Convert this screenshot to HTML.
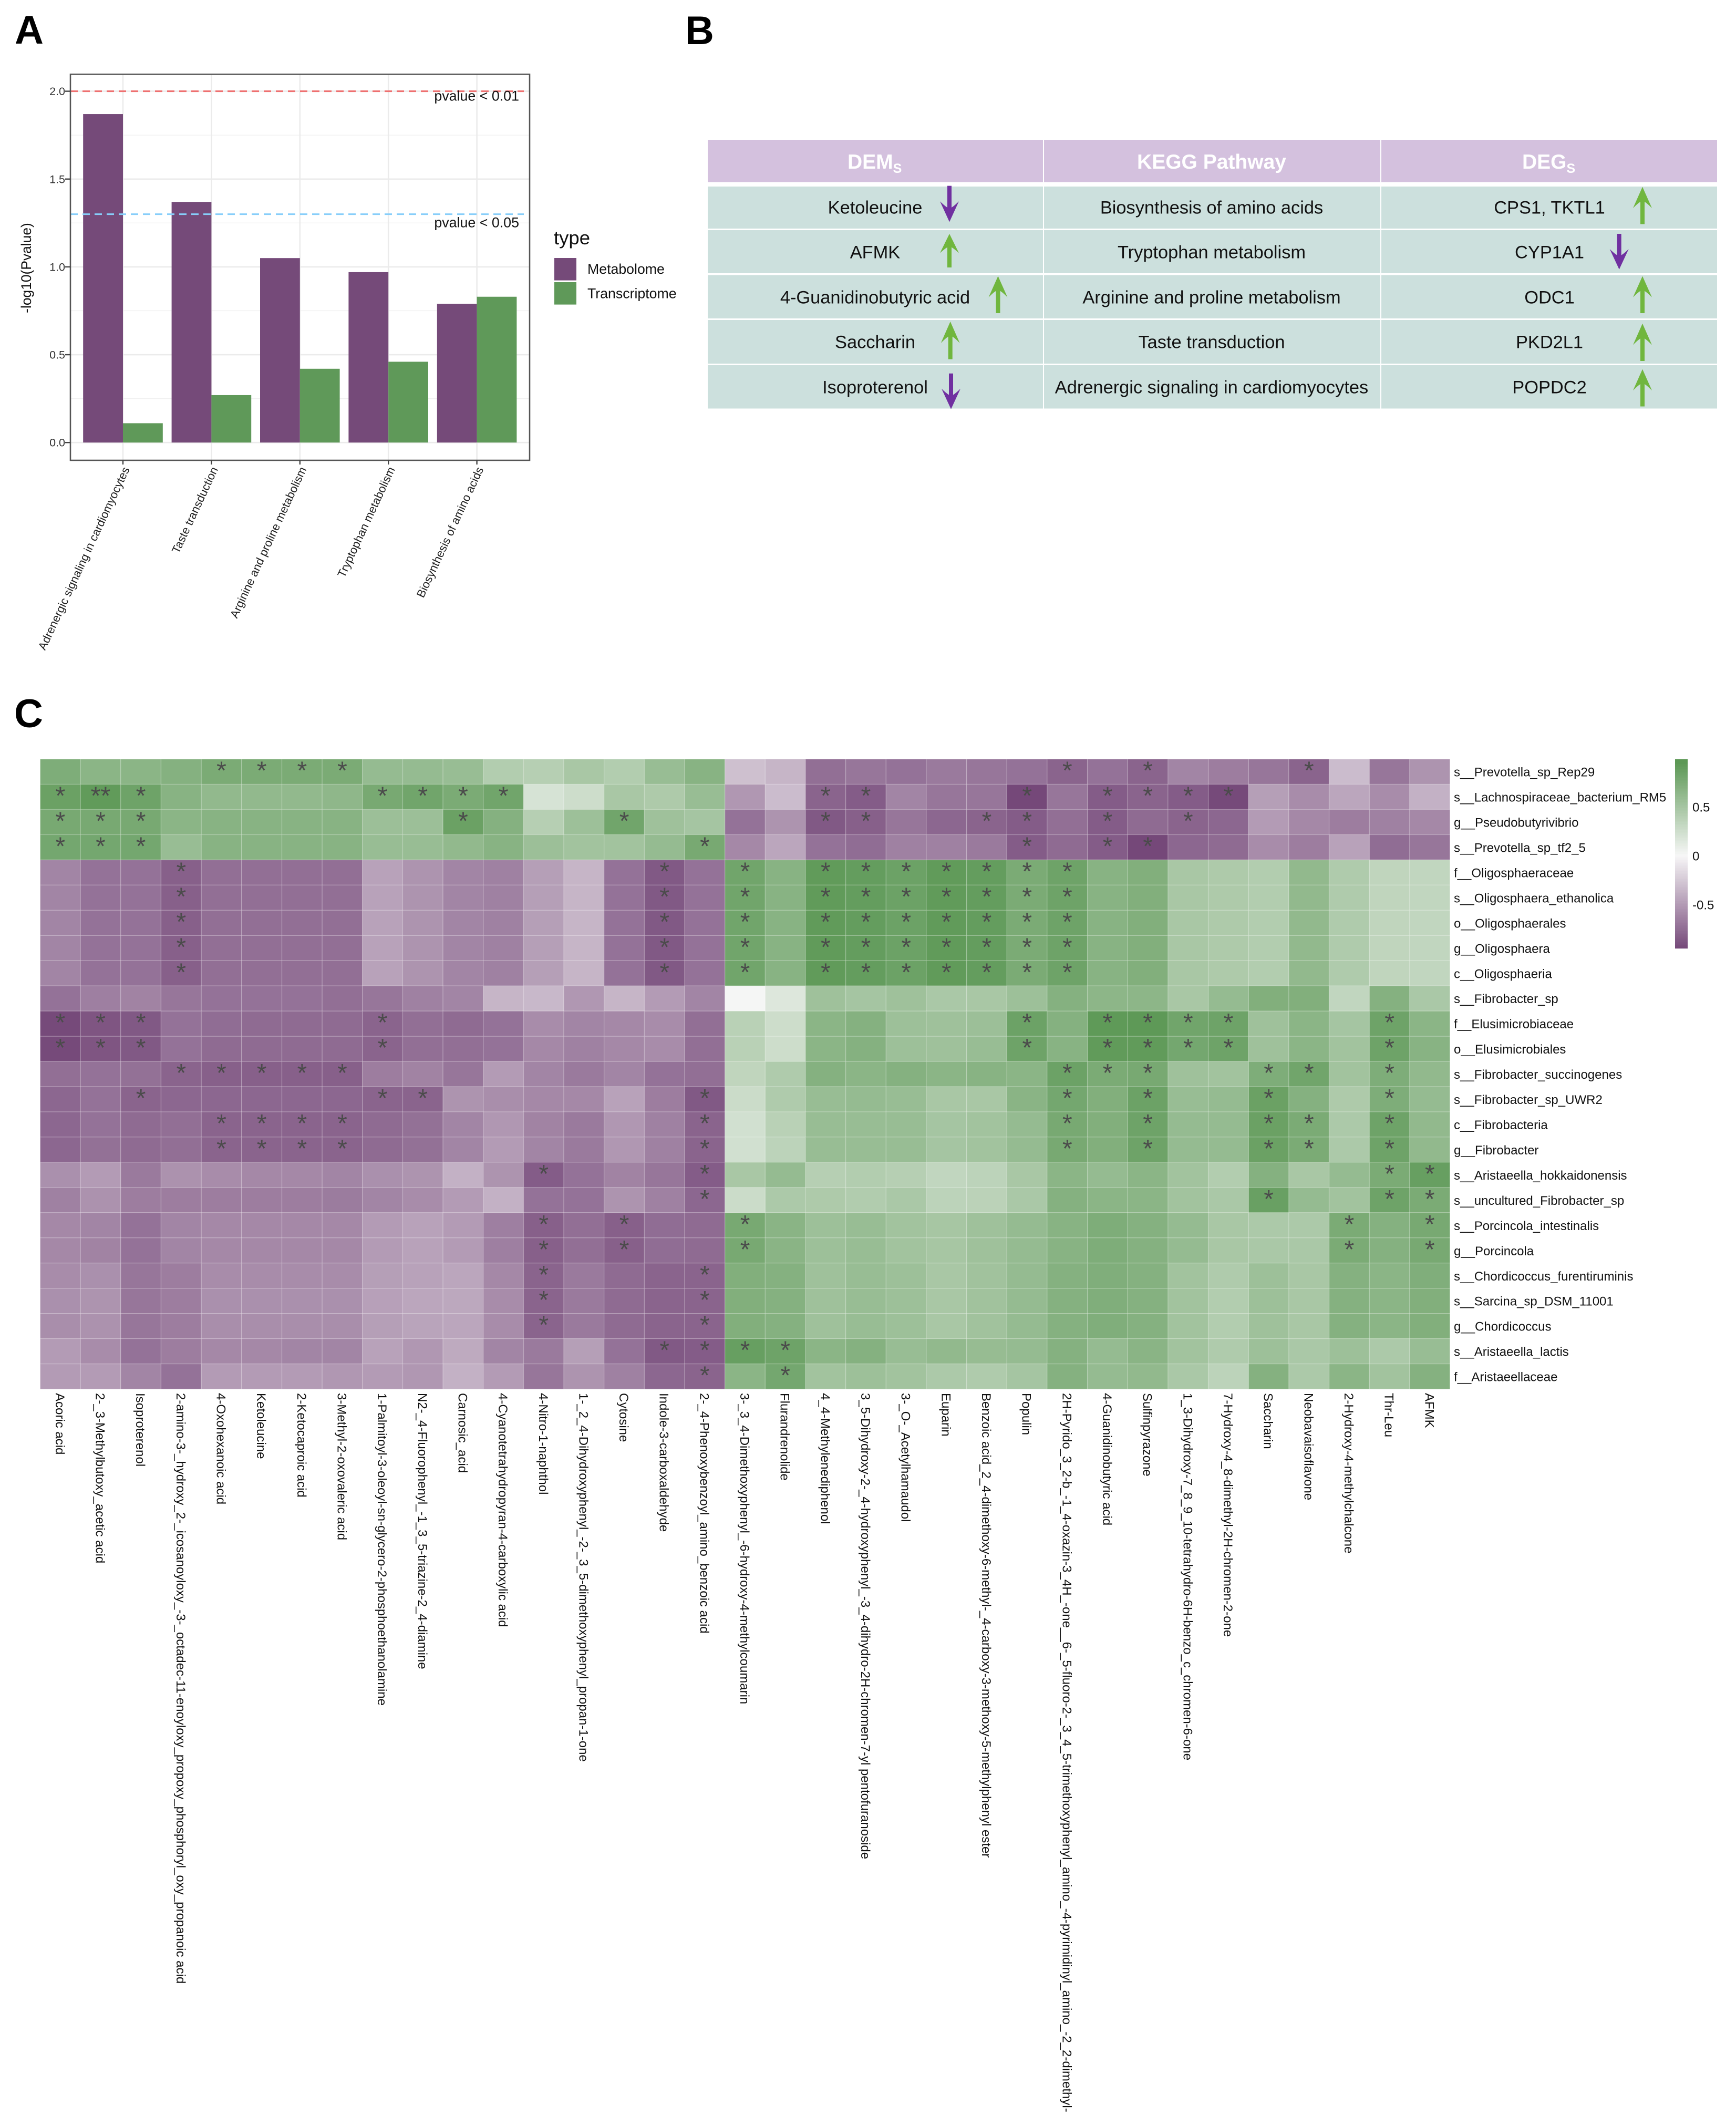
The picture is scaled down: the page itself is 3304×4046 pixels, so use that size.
<!DOCTYPE html>
<html lang="en">
<head>
<meta charset="utf-8">
<title>Multi-omics figure</title>
<style>
html,body{margin:0;padding:0;background:#fff}
svg{display:block}
text{font-family:"Liberation Sans",sans-serif}
</style>
</head>
<body>
<svg id="fig" xmlns="http://www.w3.org/2000/svg" width="3304" height="4046" viewBox="0 0 3304 4046">
<rect x="0" y="0" width="3304" height="4046" fill="#fff"/>

<text x="28" y="83" font-size="76" font-weight="700">A</text>
<text x="1304" y="84" font-size="76" font-weight="700">B</text>
<text x="27" y="1384" font-size="76" font-weight="700">C</text>

<g id="panelA"></g>

<g id="panelB">
  <rect x="1347" y="266" width="638" height="80.5" fill="#d4c1de"/>
  <rect x="1987" y="266" width="640" height="80.5" fill="#d4c1de"/>
  <rect x="2629" y="266" width="639" height="80.5" fill="#d4c1de"/>
  <text x="1613" y="321" font-size="39" font-weight="700" fill="#fff">DEM<tspan font-size="25" dy="8">S</tspan></text>
  <text x="2306" y="321" font-size="39" font-weight="700" fill="#fff" text-anchor="middle">KEGG Pathway</text>
  <text x="2897" y="321" font-size="39" font-weight="700" fill="#fff">DEG<tspan font-size="25" dy="8">S</tspan></text>

  <g fill="#cce0dd">
    <rect x="1347" y="355" width="638" height="80"/>
    <rect x="1987" y="355" width="640" height="80"/>
    <rect x="2629" y="355" width="639" height="80"/>
  </g>
  <g fill="#cce0dd">
    <rect x="1347" y="438" width="638" height="82"/>
    <rect x="1987" y="438" width="640" height="82"/>
    <rect x="2629" y="438" width="639" height="82"/>
  </g>
  <g fill="#cce0dd">
    <rect x="1347" y="523.5" width="638" height="82.5"/>
    <rect x="1987" y="523.5" width="640" height="82.5"/>
    <rect x="2629" y="523.5" width="639" height="82.5"/>
  </g>
  <g fill="#cce0dd">
    <rect x="1347" y="609" width="638" height="83"/>
    <rect x="1987" y="609" width="640" height="83"/>
    <rect x="2629" y="609" width="639" height="83"/>
  </g>
  <g fill="#cce0dd">
    <rect x="1347" y="695" width="638" height="82.5"/>
    <rect x="1987" y="695" width="640" height="82.5"/>
    <rect x="2629" y="695" width="639" height="82.5"/>
  </g>

  <g font-size="34.4" fill="#111" text-anchor="middle">
    <text x="1665.5" y="406.5">Ketoleucine</text>
    <text x="2306" y="406.5">Biosynthesis of amino acids</text>
    <text x="2949" y="406.5">CPS1, TKTL1</text>
    <text x="1665.5" y="491.5">AFMK</text>
    <text x="2306" y="491.5">Tryptophan metabolism</text>
    <text x="2949" y="491.5">CYP1A1</text>
    <text x="1665.5" y="577.5">4-Guanidinobutyric acid</text>
    <text x="2306" y="577.5">Arginine and proline metabolism</text>
    <text x="2949" y="577.5">ODC1</text>
    <text x="1665.5" y="662.5">Saccharin</text>
    <text x="2306" y="662.5">Taste transduction</text>
    <text x="2949" y="662.5">PKD2L1</text>
    <text x="1665.5" y="748.5">Isoproterenol</text>
    <text x="2306" y="748.5">Adrenergic signaling in cardiomyocytes</text>
    <text x="2949" y="748.5">POPDC2</text>
  </g>

  <path transform="translate(1807,422.4) scale(1,-0.983)" fill="#7030a0" d="M0 0L18 40Q9 31 4 28L4 70L-4 70L-4 28Q-9 31-18 40Z"/>
  <path transform="translate(1807,445) scale(1,0.914)" fill="#70b63e" d="M0 0L18 40Q9 31 4 28L4 70L-4 70L-4 28Q-9 31-18 40Z"/>
  <path transform="translate(1899.5,525.5) scale(1,1.007)" fill="#70b63e" d="M0 0L18 40Q9 31 4 28L4 70L-4 70L-4 28Q-9 31-18 40Z"/>
  <path transform="translate(1808.7,612) scale(1,1.024)" fill="#70b63e" d="M0 0L18 40Q9 31 4 28L4 70L-4 70L-4 28Q-9 31-18 40Z"/>
  <path transform="translate(1810,778.6) scale(1,-0.97)" fill="#7030a0" d="M0 0L18 40Q9 31 4 28L4 70L-4 70L-4 28Q-9 31-18 40Z"/>
  <path transform="translate(3126,355.6) scale(1,1.013)" fill="#70b63e" d="M0 0L18 40Q9 31 4 28L4 70L-4 70L-4 28Q-9 31-18 40Z"/>
  <path transform="translate(3081.7,512.7) scale(1,-0.967)" fill="#7030a0" d="M0 0L18 40Q9 31 4 28L4 70L-4 70L-4 28Q-9 31-18 40Z"/>
  <path transform="translate(3126,525.5) scale(1,1.007)" fill="#70b63e" d="M0 0L18 40Q9 31 4 28L4 70L-4 70L-4 28Q-9 31-18 40Z"/>
  <path transform="translate(3126,615.8) scale(1,1.017)" fill="#70b63e" d="M0 0L18 40Q9 31 4 28L4 70L-4 70L-4 28Q-9 31-18 40Z"/>
  <path transform="translate(3126,702.6) scale(1,1.013)" fill="#70b63e" d="M0 0L18 40Q9 31 4 28L4 70L-4 70L-4 28Q-9 31-18 40Z"/>
</g>

<g id="panelC"></g>
</svg>

<script>
// ---------- Panel A data ----------
const barCategories = ["Adrenergic signaling in cardiomyocytes","Taste transduction","Arginine and proline metabolism","Tryptophan metabolism","Biosynthesis of amino acids"];
const metabolomeValues = [1.87,1.37,1.05,0.97,0.79];
const transcriptomeValues = [0.11,0.27,0.42,0.46,0.83];
const yTickLabels = ["0.0","0.5","1.0","1.5","2.0"];
const yMinorTicks = [0.25,0.75,1.25,1.75];
const thresholdP01 = 2.0;
const thresholdP05 = 1.3;

// ---------- Panel C data ----------
const rowLabels = ["s__Prevotella_sp_Rep29","s__Lachnospiraceae_bacterium_RM5","g__Pseudobutyrivibrio","s__Prevotella_sp_tf2_5","f__Oligosphaeraceae","s__Oligosphaera_ethanolica","o__Oligosphaerales","g__Oligosphaera","c__Oligosphaeria","s__Fibrobacter_sp","f__Elusimicrobiaceae","o__Elusimicrobiales","s__Fibrobacter_succinogenes","s__Fibrobacter_sp_UWR2","c__Fibrobacteria","g__Fibrobacter","s__Aristaeella_hokkaidonensis","s__uncultured_Fibrobacter_sp","s__Porcincola_intestinalis","g__Porcincola","s__Chordicoccus_furentiruminis","s__Sarcina_sp_DSM_11001","g__Chordicoccus","s__Aristaeella_lactis","f__Aristaeellaceae"];
const colLabels = ["Acoric acid","2-_3-Methylbutoxy_acetic acid","Isoproterenol","2-amino-3-_hydroxy_2-_icosanoyloxy_-3-_octadec-11-enoyloxy_propoxy_phosphoryl_oxy_propanoic acid","4-Oxohexanoic acid","Ketoleucine","2-Ketocaproic acid","3-Methyl-2-oxovaleric acid","1-Palmitoyl-3-oleoyl-sn-glycero-2-phosphoethanolamine","N2-_4-Fluorophenyl_-1_3_5-triazine-2_4-diamine","Carnosic_acid","4-Cyanotetrahydropyran-4-carboxylic acid","4-Nitro-1-naphthol","1-_2_4-Dihydroxyphenyl_-2-_3_5-dimethoxyphenyl_propan-1-one","Cytosine","Indole-3-carboxaldehyde","2-_4-Phenoxybenzoyl_amino_benzoic acid","3-_3_4-Dimethoxyphenyl_-6-hydroxy-4-methylcoumarin","Flurandrenolide","4_4-Methylenediphenol","3_5-Dihydroxy-2-_4-hydroxyphenyl_-3_4-dihydro-2H-chromen-7-yl pentofuranoside","3-_O-_Acetylhamaudol","Euparin","Benzoic acid_2_4-dimethoxy-6-methyl-_4-carboxy-3-methoxy-5-methylphenyl ester","Populin","2H-Pyrido_3_2-b_-1_4-oxazin-3_4H_-one__6-_5-fluoro-2-_3_4_5-trimethoxyphenyl_amino_-4-pyrimidinyl_amino_-2_2-dimethyl-","4-Guanidinobutyric acid","Sulfinpyrazone","1_3-Dihydroxy-7_8_9_10-tetrahydro-6H-benzo_c_chromen-6-one","7-Hydroxy-4_8-dimethyl-2H-chromen-2-one","Saccharin","Neobavaisoflavone","2-Hydroxy-4-methylchalcone","Thr-Leu","AFMK"];
const colorbarTickValues = [0.5,0,-0.5];
const colorbarTickLabels = ["0.5","0","-0.5"];

const heatmapValues = [
[.74,.66,.66,.70,.76,.76,.76,.76,.60,.60,.58,.42,.40,.48,.42,.58,.68,-.30,-.36,-.74,-.70,-.72,-.68,-.70,-.72,-.80,-.72,-.80,-.62,-.66,-.70,-.80,-.32,-.70,-.54],
[.86,.92,.84,.68,.62,.62,.62,.64,.78,.82,.76,.82,.20,.26,.48,.45,.58,-.52,-.32,-.80,-.84,-.62,-.70,-.70,-.95,-.70,-.84,-.80,-.84,-.94,-.48,-.58,-.44,-.58,-.38],
[.78,.78,.78,.66,.68,.68,.68,.68,.56,.56,.86,.70,.40,.55,.82,.54,.50,-.72,-.54,-.86,-.82,-.70,-.78,-.80,-.84,-.74,-.84,-.76,-.80,-.78,-.50,-.60,-.66,-.64,-.60],
[.80,.80,.80,.58,.68,.68,.68,.68,.58,.58,.62,.68,.56,.52,.52,.60,.78,-.60,-.44,-.72,-.75,-.64,-.64,-.68,-.84,-.76,-.84,-.95,-.78,-.76,-.58,-.66,-.46,-.75,-.70],
[-.62,-.72,-.72,-.82,-.74,-.74,-.74,-.74,-.46,-.54,-.62,-.64,-.48,-.36,-.72,-.86,-.72,.82,.68,.92,.90,.85,.92,.90,.76,.84,.68,.72,.48,.45,.42,.62,.44,.34,.33],
[-.62,-.72,-.72,-.82,-.74,-.74,-.74,-.74,-.46,-.54,-.62,-.64,-.48,-.36,-.72,-.86,-.72,.82,.68,.92,.90,.85,.92,.90,.76,.84,.68,.72,.48,.45,.42,.62,.44,.34,.33],
[-.62,-.72,-.72,-.82,-.74,-.74,-.74,-.74,-.46,-.54,-.62,-.64,-.48,-.36,-.72,-.86,-.72,.82,.68,.92,.90,.85,.92,.90,.76,.84,.68,.72,.48,.45,.42,.62,.44,.34,.33],
[-.62,-.72,-.72,-.82,-.74,-.74,-.74,-.74,-.46,-.54,-.62,-.64,-.48,-.36,-.72,-.86,-.72,.82,.68,.92,.90,.85,.92,.90,.76,.84,.68,.72,.48,.45,.42,.62,.44,.34,.33],
[-.62,-.72,-.72,-.82,-.74,-.74,-.74,-.74,-.46,-.54,-.62,-.64,-.48,-.36,-.72,-.86,-.72,.82,.68,.92,.90,.85,.92,.90,.76,.84,.68,.72,.48,.45,.42,.62,.44,.34,.33],
[-.72,-.65,-.63,-.70,-.72,-.72,-.72,-.74,-.70,-.64,-.62,-.36,-.34,-.52,-.36,-.50,-.62,.01,.16,.54,.50,.54,.47,.48,.55,.70,.65,.65,.48,.60,.72,.72,.33,.70,.47],
[-.94,-.88,-.86,-.72,-.75,-.76,-.76,-.76,-.80,-.74,-.76,-.72,-.58,-.62,-.60,-.58,-.74,.38,.26,.66,.70,.55,.54,.56,.85,.70,.93,.94,.82,.84,.54,.66,.50,.84,.66],
[-.94,-.88,-.86,-.72,-.76,-.76,-.76,-.76,-.80,-.74,-.74,-.72,-.60,-.64,-.60,-.58,-.74,.38,.26,.66,.70,.55,.54,.58,.84,.68,.92,.92,.80,.84,.54,.66,.52,.84,.68],
[-.74,-.72,-.73,-.80,-.82,-.82,-.82,-.82,-.66,-.63,-.70,-.50,-.62,-.68,-.62,-.72,-.74,.34,.44,.70,.66,.70,.66,.68,.66,.85,.76,.78,.54,.52,.74,.82,.52,.74,.62],
[-.78,-.72,-.80,-.78,-.78,-.78,-.78,-.78,-.80,-.80,-.54,-.57,-.60,-.60,-.46,-.66,-.86,.27,.44,.58,.60,.58,.48,.48,.67,.80,.72,.85,.58,.60,.86,.70,.45,.74,.60],
[-.78,-.72,-.76,-.74,-.80,-.80,-.80,-.80,-.76,-.73,-.62,-.52,-.63,-.68,-.52,-.64,-.80,.23,.38,.58,.58,.58,.50,.52,.60,.78,.72,.84,.60,.60,.86,.76,.46,.84,.62],
[-.78,-.73,-.76,-.74,-.80,-.80,-.80,-.80,-.76,-.73,-.62,-.50,-.62,-.68,-.52,-.64,-.80,.23,.36,.58,.58,.58,.50,.52,.60,.78,.72,.84,.60,.60,.86,.76,.46,.84,.62],
[-.56,-.50,-.68,-.55,-.58,-.60,-.60,-.62,-.56,-.54,-.38,-.54,-.84,-.72,-.63,-.70,-.84,.48,.60,.40,.42,.40,.33,.36,.48,.66,.60,.66,.52,.42,.70,.48,.60,.76,.88],
[-.64,-.55,-.66,-.66,-.66,-.66,-.66,-.67,-.62,-.58,-.50,-.38,-.72,-.72,-.54,-.64,-.78,.27,.46,.45,.43,.47,.36,.37,.47,.70,.66,.66,.52,.47,.87,.60,.52,.84,.76],
[-.60,-.62,-.72,-.62,-.60,-.60,-.60,-.60,-.50,-.46,-.50,-.65,-.82,-.74,-.82,-.75,-.76,.78,.67,.55,.58,.52,.49,.54,.60,.68,.74,.70,.60,.48,.46,.46,.76,.70,.78],
[-.60,-.63,-.72,-.62,-.60,-.60,-.60,-.60,-.50,-.46,-.50,-.65,-.82,-.74,-.82,-.75,-.76,.78,.67,.55,.58,.52,.49,.54,.60,.68,.74,.70,.60,.48,.47,.47,.76,.70,.78],
[-.58,-.56,-.70,-.66,-.58,-.58,-.58,-.58,-.48,-.46,-.44,-.60,-.80,-.68,-.76,-.80,-.80,.72,.70,.54,.58,.55,.48,.53,.60,.70,.73,.70,.52,.44,.55,.48,.70,.66,.73],
[-.56,-.54,-.70,-.66,-.56,-.56,-.56,-.56,-.47,-.44,-.43,-.58,-.80,-.68,-.76,-.80,-.80,.72,.70,.54,.58,.55,.48,.53,.60,.70,.73,.70,.52,.42,.55,.48,.70,.66,.72],
[-.57,-.55,-.70,-.66,-.57,-.57,-.57,-.57,-.48,-.45,-.44,-.58,-.80,-.68,-.76,-.80,-.80,.72,.70,.54,.58,.55,.48,.53,.60,.70,.73,.70,.52,.42,.54,.48,.70,.66,.72],
[-.50,-.58,-.72,-.66,-.60,-.60,-.62,-.62,-.46,-.52,-.42,-.62,-.68,-.48,-.72,-.86,-.84,.88,.84,.66,.70,.58,.62,.59,.60,.70,.60,.67,.52,.44,.55,.47,.55,.46,.58],
[-.50,-.50,-.62,-.72,-.50,-.50,-.50,-.52,-.50,-.52,-.38,-.50,-.70,-.54,-.64,-.78,-.80,.66,.80,.52,.55,.52,.46,.44,.50,.70,.60,.62,.47,.36,.70,.46,.66,.52,.70]
];

const sigCells = [
[4,5,6,7,25,27,31],
[0,1,2,8,9,10,11,19,20,24,26,27,28,29],
[0,1,2,10,14,19,20,23,24,26,28],
[0,1,2,16,24,26,27],
[3,15,17,19,20,21,22,23,24,25],
[3,15,17,19,20,21,22,23,24,25],
[3,15,17,19,20,21,22,23,24,25],
[3,15,17,19,20,21,22,23,24,25],
[3,15,17,19,20,21,22,23,24,25],
[],
[0,1,2,8,24,26,27,28,29,33],
[0,1,2,8,24,26,27,28,29,33],
[3,4,5,6,7,25,26,27,30,31,33],
[2,8,9,16,25,27,30,33],
[4,5,6,7,16,25,27,30,31,33],
[4,5,6,7,16,25,27,30,31,33],
[12,16,33,34],
[16,30,33,34],
[12,14,17,32,34],
[12,14,17,32,34],
[12,16],
[12,16],
[12,16],
[15,16,17,18],
[16,18]
];
const doubleSigCells = [[1,1]];

// ---------- helpers ----------
const NS = "http://www.w3.org/2000/svg";
function mk(tag, parent, attrs){
  const el = document.createElementNS(NS, tag);
  for (const k in attrs) el.setAttribute(k, attrs[k]);
  parent.appendChild(el);
  return el;
}

// ---------- Panel A ----------
(function(){
  const g = document.getElementById("panelA");
  const L = 134, R = 1008, T = 141.4, B = 876;
  const y = v => 842.2 - v * 334.3;
  const cx = i => 234 + i * 168.4;
  const barW = 75.8;

  const bg = mk("rect", g, {x:L, y:T, width:R-L, height:B-T, fill:"#fff"});
  
  

  yMinorTicks.forEach(v => {
    const l = mk("line", g, {x1:L, x2:R, y1:y(v), y2:y(v), stroke:"#f0f0f0", "stroke-width":1.4});
    
    
  });
  yTickLabels.forEach(t => {
    const v = parseFloat(t);
    const l = mk("line", g, {x1:L, x2:R, y1:y(v), y2:y(v), stroke:"#ebebeb", "stroke-width":2.6});
    
    
  });
  barCategories.forEach((c,i) => {
    const l = mk("line", g, {x1:cx(i), x2:cx(i), y1:T, y2:B, stroke:"#ebebeb", "stroke-width":2.6});
    
    
  });

  metabolomeValues.forEach((v,i) => {
    const r = mk("rect", g, {x:cx(i)-barW, y:y(v), width:barW, height:y(0)-y(v), fill:"#754a79"});
    
    
  });
  transcriptomeValues.forEach((v,i) => {
    const r = mk("rect", g, {x:cx(i), y:y(v), width:barW, height:y(0)-y(v), fill:"#5f9959"});
    
    
  });

  const red = mk("line", g, {x1:L, x2:997, y1:y(thresholdP01), y2:y(thresholdP01), stroke:"#ee7070", "stroke-width":3, "stroke-dasharray":"14 9"});
  
  
  const blue = mk("line", g, {x1:L, x2:997, y1:y(thresholdP05), y2:y(thresholdP05), stroke:"#87cefa", "stroke-width":3, "stroke-dasharray":"14 9"});
  
  

  const t1 = mk("text", g, {x:988, y:y(thresholdP01)+18, "font-size":26.8, "text-anchor":"end", fill:"#111"});
  t1.textContent = "pvalue < 0.01";
  
  
  const t2 = mk("text", g, {x:988, y:y(thresholdP05)+25, "font-size":26.8, "text-anchor":"end", fill:"#111"});
  t2.textContent = "pvalue < 0.05";
  
  

  const border = mk("rect", g, {x:L, y:T, width:R-L, height:B-T, fill:"none", stroke:"#555", "stroke-width":2.6});
  
  

  yTickLabels.forEach(t => {
    const v = parseFloat(t);
    const tk = mk("line", g, {x1:L-10, x2:L, y1:y(v), y2:y(v), stroke:"#444", "stroke-width":2.4});
    
    
    const lb = mk("text", g, {x:L-10, y:y(v)+7.5, "font-size":21.5, "text-anchor":"end", fill:"#333"});
    lb.textContent = t;
    
    
  });
  barCategories.forEach((c,i) => {
    const tk = mk("line", g, {x1:cx(i), x2:cx(i), y1:B, y2:B+8, stroke:"#444", "stroke-width":2.4});
    
    
    const lb = mk("text", g, {transform:"translate("+(cx(i)+13)+",893) rotate(-65)", "font-size":22, "text-anchor":"end", fill:"#222"});
    lb.textContent = c;
    
    
  });

  const yt = mk("text", g, {transform:"translate(59,510) rotate(-90)", "font-size":26.4, "text-anchor":"middle", fill:"#111"});
  yt.textContent = "-log10(Pvalue)";
  
  

  const lt = mk("text", g, {x:1054, y:465, "font-size":36.5, fill:"#111"});
  lt.textContent = "type";
  
  

  const k1 = mk("rect", g, {x:1055, y:491, width:42, height:42.6, fill:"#754a79"});
  
  
  const k2 = mk("rect", g, {x:1055, y:537, width:42, height:42.6, fill:"#5f9959"});
  
  
  const e1 = mk("text", g, {x:1118, y:521, "font-size":26.7, fill:"#111"});
  e1.textContent = "Metabolome";
  
  
  const e2 = mk("text", g, {x:1118, y:567.5, "font-size":26.7, fill:"#111"});
  e2.textContent = "Transcriptome";
  
  
})();

// ---------- Panel C ----------
(function(){
  const g = document.getElementById("panelC");
  const X0 = 76.5, Y0 = 1444.6, CW = 76.66, RH = 47.96;
  const maxV = 0.95;
  const white = [247,247,247], green = [92,152,85], purple = [117,72,121];
  function color(v){
    const t = Math.min(1, Math.abs(v) / maxV);
    const end = v >= 0 ? green : purple;
    const c = white.map((w,i) => Math.round(w + (end[i]-w) * t));
    return "rgb(" + c.join(",") + ")";
  }
  const cellX = c => X0 + c * CW;
  const cellY = r => Y0 + r * RH;

  heatmapValues.forEach((row,r) => {
    row.forEach((v,c) => {
      const cell = mk("rect", g, {x:cellX(c), y:cellY(r), width:CW, height:RH, fill:color(v), stroke:"rgba(255,255,255,0.2)", "stroke-width":1.4});
      
      
    });
  });

  sigCells.forEach((cols,r) => {
    cols.forEach(c => {
      const isDouble = doubleSigCells.some(d => d[0] === r && d[1] === c);
      const s = mk("text", g, {x:cellX(c)+CW/2, y:cellY(r)+38, "font-size":48, "text-anchor":"middle", fill:"#4b4b4b"});
      s.textContent = isDouble ? "**" : "*";
      
      
    });
  });

  rowLabels.forEach((t,r) => {
    const l = mk("text", g, {x:2767, y:cellY(r)+RH/2+9, "font-size":24, fill:"#111"});
    l.textContent = t;
    
    
  });
  colLabels.forEach((t,c) => {
    const l = mk("text", g, {transform:"translate("+(cellX(c)+CW/2-9)+",2651) rotate(90)", "font-size":24, fill:"#111"});
    l.textContent = t;
    
    
  });

  // colour bar
  const barTop = 1444.8, barBottom = 1804, zeroY = 1628.5, unit = 186;
  const vAt = py => (zeroY - py) / unit;
  const strip = mk("g", g, {});
  
  
  for (let py = barTop; py < barBottom; py += 3) {
    const s = mk("rect", strip, {x:3188, y:py, width:24, height:3.4, fill:color(vAt(py+1.5))});
    
    
  }
  colorbarTickValues.forEach((v,i) => {
    const l = mk("text", g, {x:3221, y:zeroY - v*unit + 9, "font-size":24, fill:"#111"});
    l.textContent = colorbarTickLabels[i];
    
    
  });
})();
</script>
</body>
</html>
